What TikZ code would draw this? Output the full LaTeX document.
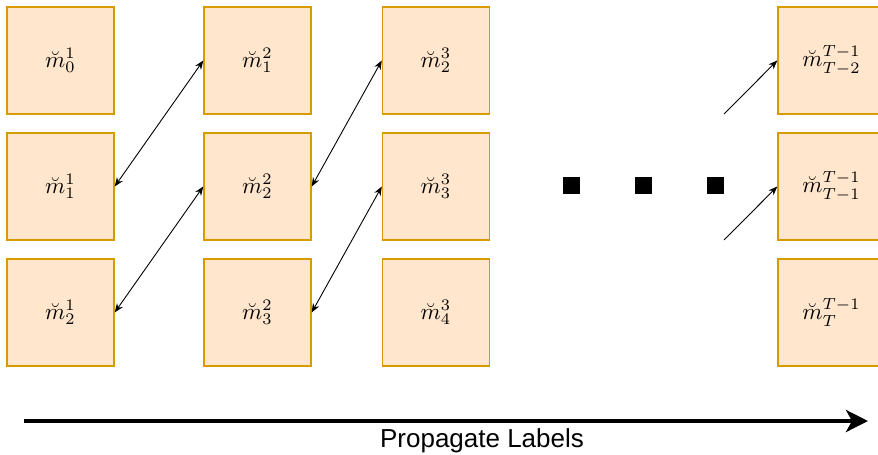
\documentclass[tikz,border=0pt]{standalone}
\usepackage{graphicx}
\usepackage{fontspec}
\setsansfont{Liberation Sans}
\usetikzlibrary{arrows.meta}
\definecolor{boxfill}{HTML}{FFE6CC}
\definecolor{boxline}{HTML}{D79B00}
\newcommand{\cellm}[1]{\scalebox{2.3}{$#1$}}
\tikzset{
  cell/.style={draw=boxline, fill=boxfill, line width=1.4pt, minimum width=107pt, minimum height=107pt, inner sep=0pt},
  link/.style={line width=0.9pt, {Stealth[length=9pt,width=7pt]}-{Stealth[length=9pt,width=7pt]}},
  onelink/.style={line width=0.9pt, -{Stealth[length=9pt,width=7pt]}},
  dotsq/.style={fill=black, minimum size=17pt, inner sep=0pt},
}
\begin{document}
\begin{tikzpicture}[x=1pt,y=-1pt]
\useasboundingbox (0,0) rectangle (878,455);
\begin{scope}
\clip (0,0) rectangle (878,455);
\node[cell] (a1) at (60.5,60.5) {\cellm{\breve{m}_0^1}};
\node[cell] (a2) at (60.5,186.5) {\cellm{\breve{m}_1^1}};
\node[cell] (a3) at (60.5,312.5) {\cellm{\breve{m}_2^1}};
\node[cell] (b1) at (257.5,60.5) {\cellm{\breve{m}_1^2}};
\node[cell] (b2) at (257.5,186.5) {\cellm{\breve{m}_2^2}};
\node[cell] (b3) at (257.5,312.5) {\cellm{\breve{m}_3^2}};
\node[cell] (c1) at (436,60.5) {\cellm{\breve{m}_2^3}};
\node[cell] (c2) at (436,186.5) {\cellm{\breve{m}_3^3}};
\node[cell] (c3) at (436,312.5) {\cellm{\breve{m}_4^3}};
\node[cell] (d1) at (831.5,60.5) {\cellm{\breve{m}_{T-2}^{T-1}}};
\node[cell] (d2) at (831.5,186.5) {\cellm{\breve{m}_{T-1}^{T-1}}};
\node[cell] (d3) at (831.5,312.5) {\cellm{\breve{m}_{T}^{T-1}}};
\end{scope}
\draw[link] (a2.east) -- (b1.west);
\draw[link] (a3.east) -- (b2.west);
\draw[link] (b2.east) -- (c1.west);
\draw[link] (b3.east) -- (c2.west);
\coordinate (s1) at (724,114);
\coordinate (s2) at (724,240);
\draw[onelink] (s1) -- (d1.west);
\draw[onelink] (s2) -- (d2.west);
\node[dotsq] (p1) at (571.5,185.5) {};
\node[dotsq] (p2) at (643.5,185.5) {};
\node[dotsq] (p3) at (715.5,185.5) {};
\coordinate (ax0) at (24,421);
\coordinate (ax1) at (868,421);
\draw[line width=4pt, -{Triangle[length=22pt,width=22pt,inset=6pt]}] (ax0) -- (ax1);
\node[font=\sffamily\fontsize{26}{29}\selectfont, anchor=base] (lab) at (482,447) {Propagate Labels};
\end{tikzpicture}
\end{document}
